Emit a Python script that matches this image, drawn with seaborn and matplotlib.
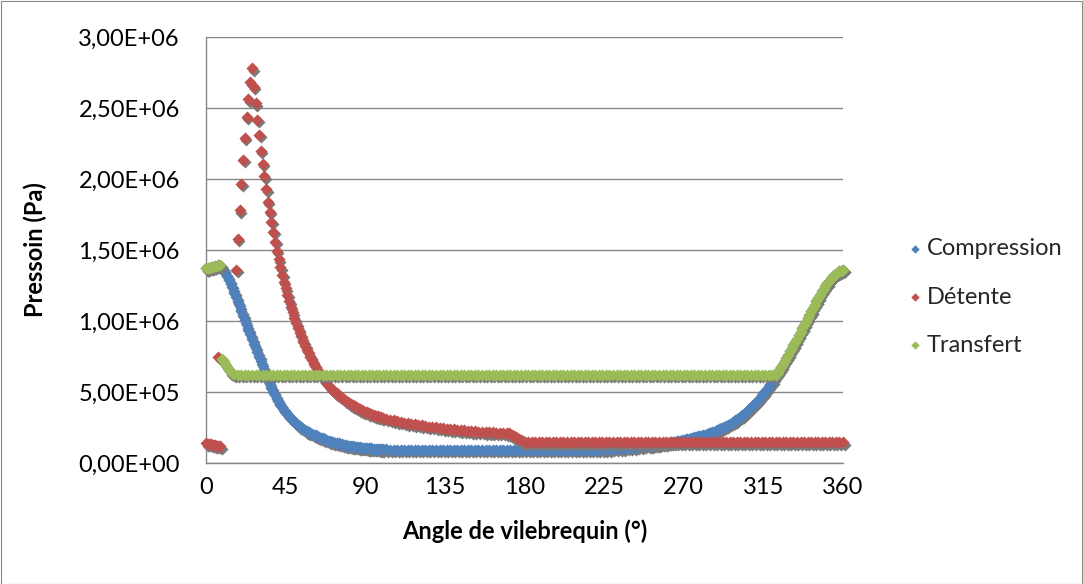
import numpy as np
import pandas as pd
import matplotlib
matplotlib.use("Agg")
import matplotlib.pyplot as plt
import seaborn as sns
from matplotlib.ticker import FuncFormatter
from matplotlib.transforms import offset_copy
from matplotlib.patches import Rectangle

# ---------------- data (pressure values in units of 1e5 Pa) ----------------
series_names = ["Compression", "Détente", "Transfert"]
series_colors = ["#4F81BD", "#C0504D", "#9BBB59"]
x_ticks = [0, 45, 90, 135, 180, 225, 270, 315, 360]
y_ticks = [0, 500000, 1000000, 1500000, 2000000, 2500000, 3000000]

compression_angle = list(range(0, 101)) + list(range(102, 251, 2)) + list(range(251, 361))
compression_p = [
    13.70, 13.72, 13.75, 13.78, 13.82, 13.86, 13.90, 13.92, 13.90, 13.80, 13.60,
    13.38, 13.14, 12.88, 12.60, 12.30, 12.00, 11.68, 11.36, 11.03, 10.70,
    10.37, 10.04, 9.71, 9.38, 9.05, 8.72, 8.40, 8.10, 7.80, 7.48,
    7.15, 6.82, 6.50, 6.18, 5.88, 5.58, 5.30, 5.03, 4.78, 4.54,
    4.30, 4.10, 3.92, 3.75, 3.60, 3.45, 3.30, 3.17, 3.04, 2.92,
    2.80, 2.69, 2.59, 2.50, 2.41, 2.33, 2.25, 2.18, 2.12, 2.06,
    2.00, 1.94, 1.88, 1.83, 1.78, 1.73, 1.68, 1.63, 1.58, 1.54,
    1.50, 1.47, 1.44, 1.41, 1.38, 1.35, 1.32, 1.29, 1.26, 1.23,
    1.21, 1.19, 1.17, 1.15, 1.13, 1.11, 1.10, 1.08, 1.07, 1.06,
    1.05, 1.04, 1.03, 1.02, 1.01, 1.00, 0.99, 0.98, 0.97, 0.97,
    # 102..250 step 2
    0.96, 0.95, 0.95, 0.94, 0.94, 0.93, 0.93, 0.93, 0.92, 0.92,
    0.92, 0.92, 0.92, 0.92, 0.92, 0.92, 0.92, 0.92, 0.92, 0.92,
    0.92, 0.92, 0.92, 0.92, 0.92, 0.92, 0.92, 0.92, 0.92, 0.92,
    0.92, 0.92, 0.92, 0.92, 0.92, 0.92, 0.92, 0.92, 0.92, 0.92,
    0.92, 0.92, 0.92, 0.92, 0.92, 0.92, 0.92, 0.92, 0.92, 0.92,
    0.92, 0.92, 0.92, 0.92, 0.92, 0.92, 0.92,
    0.93, 0.93, 0.94, 0.95, 0.96, 0.97, 0.98, 1.00, 1.01, 1.03,
    1.05, 1.07, 1.09, 1.11, 1.14, 1.17, 1.20, 1.23,
    # 251..360
    1.24, 1.26, 1.28, 1.29, 1.31, 1.32, 1.34, 1.36, 1.38, 1.40,
    1.42, 1.44, 1.46, 1.48, 1.50, 1.52, 1.54, 1.57, 1.60, 1.63,
    1.66, 1.69, 1.72, 1.75, 1.78, 1.81, 1.84, 1.87, 1.90, 1.93,
    1.96, 2.00, 2.04, 2.08, 2.12, 2.16, 2.21, 2.26, 2.31, 2.37,
    2.43, 2.49, 2.55, 2.62, 2.69, 2.76, 2.84, 2.92, 3.00, 3.09,
    3.18, 3.27, 3.37, 3.47, 3.58, 3.69, 3.81, 3.93, 4.06, 4.19,
    4.33, 4.47, 4.61, 4.76, 4.92, 5.08, 5.24, 5.41, 5.58, 5.76,
    5.95, 6.15,
    6.36, 6.57, 6.78, 6.99, 7.20, 7.42, 7.64, 7.86, 8.08, 8.30,
    8.53, 8.76, 9.00, 9.24, 9.48, 9.72, 9.96, 10.20, 10.44, 10.68,
    10.92, 11.16, 11.40, 11.63, 11.86, 12.08, 12.28, 12.48, 12.66, 12.83,
    12.98, 13.12, 13.24, 13.34, 13.42, 13.49, 13.55, 13.60,
]

detente_angle = (list(range(0, 9)) + [7] + list(range(17, 101)) + list(range(102, 171, 2))
                 + list(range(171, 180)) + list(range(180, 361, 2)))
detente_p = [
    1.40, 1.37, 1.35, 1.32, 1.29, 1.26, 1.23, 1.20, 1.17,
    7.50,
    13.60, 15.80, 17.80, 19.65, 21.34, 22.90, 24.37, 25.63, 26.81, 27.80,
    26.50, 25.33, 24.18, 23.10, 22.00, 21.08, 20.21, 19.27, 18.40, 17.70,
    17.00, 16.29, 15.58, 14.95, 14.34, 13.78, 13.24,
    12.75, 12.30, 11.85, 11.40, 11.00, 10.60, 10.20, 9.85, 9.50, 9.15,
    8.85, 8.55, 8.25, 7.98, 7.72, 7.47, 7.23, 7.00, 6.78, 6.57,
    6.37, 6.18, 6.00, 5.83, 5.67, 5.52, 5.37, 5.23, 5.10, 4.97,
    4.90, 4.79, 4.68, 4.58, 4.48, 4.39, 4.30, 4.21, 4.13, 4.05,
    3.98, 3.91, 3.84, 3.78, 3.72, 3.66, 3.61, 3.56, 3.51, 3.46,
    3.41, 3.37, 3.33, 3.29, 3.25, 3.22, 3.19,
    # 102..170 step 2
    3.12, 3.06, 3.00, 2.95, 2.90, 2.85, 2.81, 2.77, 2.73, 2.69,
    2.65, 2.61, 2.57, 2.54, 2.51, 2.48, 2.45, 2.42, 2.39, 2.36,
    2.34, 2.31, 2.29, 2.27, 2.25, 2.23, 2.21, 2.19, 2.17, 2.16,
    2.15, 2.14, 2.13, 2.12, 2.11,
    # 171..179
    2.09, 2.02, 1.95, 1.88, 1.81, 1.74, 1.67, 1.60, 1.53,
    # 180..360 step 2
    1.46, 1.45, 1.45, 1.45, 1.45, 1.45, 1.45, 1.45, 1.45, 1.45,
    1.45, 1.45, 1.45, 1.45, 1.45, 1.45, 1.45, 1.45, 1.45, 1.45,
    1.45, 1.45, 1.45, 1.45, 1.45, 1.45, 1.45, 1.45, 1.45, 1.45,
    1.45, 1.45, 1.45, 1.45, 1.45, 1.45, 1.45, 1.45, 1.45, 1.45,
    1.45, 1.45, 1.45, 1.45, 1.45, 1.45, 1.45, 1.45, 1.45, 1.45,
    1.45, 1.45, 1.45, 1.45, 1.45, 1.45, 1.45, 1.45, 1.45, 1.45,
    1.45, 1.45, 1.45, 1.45, 1.45, 1.45, 1.45, 1.45, 1.45, 1.45,
    1.45, 1.45, 1.45, 1.45, 1.45, 1.45, 1.45, 1.45, 1.45, 1.45,
    1.45, 1.45, 1.45, 1.45, 1.45, 1.45, 1.45, 1.45, 1.45, 1.45,
    1.45,
]

transfert_angle = list(range(0, 9)) + list(range(9, 17)) + list(range(18, 321, 2)) + list(range(322, 361))
transfert_p = [
    13.70, 13.72, 13.75, 13.78, 13.82, 13.86, 13.90, 13.93, 13.93,
    7.35, 7.15, 6.95, 6.75, 6.55, 6.40, 6.30, 6.24,
    # 18..320 step 2
    6.23, 6.23, 6.23, 6.23, 6.23, 6.23, 6.23, 6.23, 6.23, 6.23,
    6.23, 6.23, 6.23, 6.23, 6.23, 6.23, 6.23, 6.23, 6.23, 6.23,
    6.23, 6.23, 6.23, 6.23, 6.23, 6.23, 6.23, 6.23, 6.23, 6.23,
    6.23, 6.23, 6.23, 6.23, 6.23, 6.23, 6.23, 6.23, 6.23, 6.23,
    6.23, 6.23, 6.23, 6.23, 6.23, 6.23, 6.23, 6.23, 6.23, 6.23,
    6.23, 6.23, 6.23, 6.23, 6.23, 6.23, 6.23, 6.23, 6.23, 6.23,
    6.23, 6.23, 6.23, 6.23, 6.23, 6.23, 6.23, 6.23, 6.23, 6.23,
    6.23, 6.23, 6.23, 6.23, 6.23, 6.23, 6.23, 6.23, 6.23, 6.23,
    6.23, 6.23, 6.23, 6.23, 6.23, 6.23, 6.23, 6.23, 6.23, 6.23,
    6.23, 6.23, 6.23, 6.23, 6.23, 6.23, 6.23, 6.23, 6.23, 6.23,
    6.23, 6.23, 6.23, 6.23, 6.23, 6.23, 6.23, 6.23, 6.23, 6.23,
    6.23, 6.23, 6.23, 6.23, 6.23, 6.23, 6.23, 6.23, 6.23, 6.23,
    6.23, 6.23, 6.23, 6.23, 6.23, 6.23, 6.23, 6.23, 6.23, 6.23,
    6.23, 6.23, 6.23, 6.23, 6.23, 6.23, 6.23, 6.23, 6.23, 6.23,
    6.23, 6.23, 6.23, 6.23, 6.23, 6.23, 6.23, 6.23, 6.23, 6.23,
    6.23, 6.23,
    # 322..360
    6.20,
    6.36, 6.57, 6.78, 6.99, 7.20, 7.42, 7.64, 7.86, 8.08, 8.30,
    8.53, 8.76, 9.00, 9.24, 9.48, 9.72, 9.96, 10.20, 10.44, 10.68,
    10.92, 11.16, 11.40, 11.63, 11.86, 12.08, 12.28, 12.48, 12.66, 12.83,
    12.98, 13.12, 13.24, 13.34, 13.42, 13.49, 13.55, 13.60,
]

# ---------------- figure ----------------
sns.set_theme(style="white")
plt.rcParams["font.family"] = ["Lato", "DejaVu Sans"]

W, H = 1083, 584
fig = plt.figure(figsize=(W / 100, H / 100), dpi=100)
fig.patch.set_facecolor("white")
ax = fig.add_axes([206 / W, 1 - 463 / H, 637 / W, 426 / H])

series = [
    (series_names[0], compression_angle, compression_p, series_colors[0]),
    (series_names[1], detente_angle, detente_p, series_colors[1]),
    (series_names[2], transfert_angle, transfert_p, series_colors[2]),
]

MS = 38
shadow_tr = offset_copy(ax.transData, fig=fig, x=1.5, y=-2.5, units="dots")
for i, (name, ang, p, col) in enumerate(series):
    df = pd.DataFrame({"angle": ang, "pression": np.asarray(p) * 1e5})
    sns.scatterplot(data=df, x="angle", y="pression", ax=ax, color="#7a7a7a",
                    marker="D", s=MS, linewidth=0, transform=shadow_tr,
                    legend=False, zorder=2 + 2 * i, clip_on=False)
    sns.scatterplot(data=df, x="angle", y="pression", ax=ax, color=col,
                    marker="D", s=MS, linewidth=0, label=name,
                    zorder=3 + 2 * i, clip_on=False)

ax.set_xlim(0, 360)
ax.set_ylim(0, 3000000)
ax.set_xticks(x_ticks)
ax.set_yticks(y_ticks)
ax.yaxis.set_major_formatter(FuncFormatter(lambda v, pos: f"{v:.2E}".replace(".", ",")))

grid_col = "#868686"
ax.set_axisbelow(True)
ax.yaxis.grid(True, color=grid_col, linewidth=1.0)
ax.xaxis.grid(False)
for s in ["top", "right"]:
    ax.spines[s].set_visible(False)
for s in ["left", "bottom"]:
    ax.spines[s].set_color(grid_col)
    ax.spines[s].set_linewidth(1.0)

ax.tick_params(axis="both", which="major", direction="out", length=5.8, width=1.0,
               color=grid_col, labelsize=17, labelcolor="black")
ax.tick_params(axis="y", pad=13)
ax.tick_params(axis="x", pad=4)

ax.set_xlabel("Angle de vilebrequin (°)", fontsize=17, fontweight="bold", color="black")
ax.set_ylabel("Pressoin (Pa)", fontsize=17, fontweight="bold", color="black")
ax.xaxis.set_label_coords(0.5, (463 - 519) / 426)
ax.yaxis.set_label_coords((47 - 206) / 637, 0.5)

handles, labels = ax.get_legend_handles_labels()
leg = ax.get_legend()
if leg is not None:
    leg.remove()
fig.legend(handles, labels, loc="center left", bbox_to_anchor=(909 / W, 1 - 297 / H),
           frameon=False, fontsize=17, handletextpad=0.26, labelspacing=1.15,
           markerscale=0.7, handlelength=0.5, borderaxespad=0, borderpad=0)

fig.add_artist(Rectangle((0.5 / W, 0.5 / H), 1 - 1.5 / W, 1 - 1.5 / H,
                         transform=fig.transFigure, fill=False,
                         edgecolor="#8a8a8a", linewidth=0.8))

fig.savefig("out.png", dpi=100, facecolor="white")
